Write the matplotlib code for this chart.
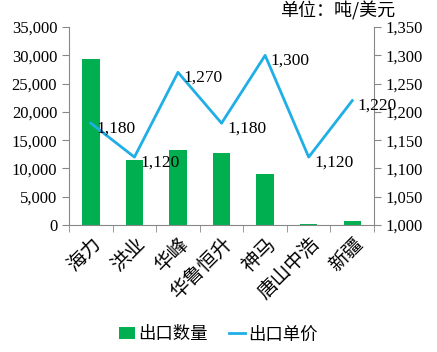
import numpy as np
import matplotlib.pyplot as plt
from matplotlib.ticker import FuncFormatter

plt.rcParams['font.family'] = ['Liberation Serif', 'Noto Sans CJK SC']

companies = ['海力', '洪业', '华峰', '华鲁恒升', '神马', '唐山中浩', '新疆']
export_qty = [29300, 11500, 13250, 12700, 9050, 200, 750]
export_price = [1180, 1120, 1270, 1180, 1300, 1120, 1220]

bar_color = '#00B050'
line_color = '#1FAEE6'
axis_color = '#888888'

fig = plt.figure(figsize=(4.37, 3.52), dpi=100)
ax = fig.add_axes([0.158, 0.361, 0.698, 0.562])
ax2 = ax.twinx()

x = np.arange(len(companies))
ax.bar(x, export_qty, width=0.4, color=bar_color, zorder=2, label='出口数量')
ax2.plot(x, export_price, color=line_color, lw=2, label='出口单价')
for xi, v in zip(x, export_price):
    ax2.annotate(f'{v:,}', (xi, v), xytext=(4, -4), textcoords='offset points',
                 ha='left', va='center', fontsize=12.5)

ax.set_xlim(-0.5, len(companies) - 0.5)
ax.set_ylim(0, 35000)
ax2.set_ylim(1000, 1350)
ax.set_yticks(range(0, 35001, 5000))
ax2.set_yticks(range(1000, 1351, 50))
fmt = FuncFormatter(lambda v, p: f'{int(v):,}')
ax.yaxis.set_major_formatter(fmt)
ax2.yaxis.set_major_formatter(fmt)

ax.set_xticks(x)
ax.set_xticklabels(companies, rotation=45, ha='right', rotation_mode='anchor',
                   fontsize=14, family='Noto Sans CJK SC')
ax.set_xticks(np.arange(-0.5, len(companies)), minor=True)
ax.tick_params(axis='x', which='major', length=0, pad=6)
ax.tick_params(axis='x', which='minor', length=5, color=axis_color)
ax.tick_params(axis='y', labelsize=12, length=5, color=axis_color)
ax2.tick_params(axis='y', labelsize=12, length=5, color=axis_color)

for a in (ax, ax2):
    for s in a.spines.values():
        s.set_visible(False)
ax.spines['left'].set_visible(True)
ax.spines['bottom'].set_visible(True)
ax2.spines['right'].set_visible(True)
ax.spines['left'].set_color(axis_color)
ax.spines['bottom'].set_color(axis_color)
ax2.spines['right'].set_color(axis_color)

fig.text(0.904, 0.97, '单位：吨/美元', ha='right', va='center', fontsize=13,
         family='Noto Sans CJK SC')

h1, l1 = ax.get_legend_handles_labels()
h2, l2 = ax2.get_legend_handles_labels()
fig.legend(h1 + h2, l1 + l2, loc='center', bbox_to_anchor=(0.5, 0.05), ncol=2,
           frameon=False, prop={'family': 'Noto Sans CJK SC', 'size': 12.5},
           handlelength=0.9, handletextpad=0.2, columnspacing=1.2)

fig.savefig('out.png', dpi=100)
